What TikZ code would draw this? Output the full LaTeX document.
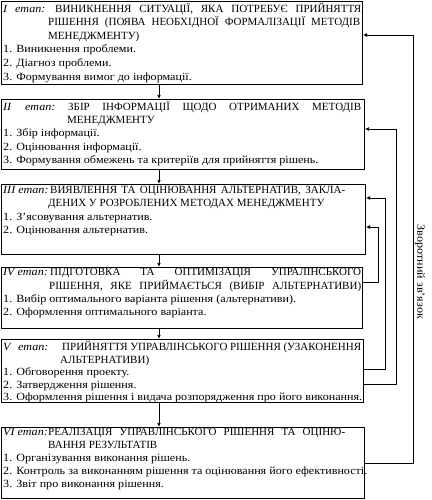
\documentclass[tikz,border=0pt]{standalone}
\usepackage{fontspec}
\setmainfont{Liberation Serif}[FakeStretch=1.1]
\newfontfamily\hfont{Liberation Serif}
\usetikzlibrary{arrows.meta}
\begin{document}
\begin{tikzpicture}[x=1pt,y=-1pt,
  box/.style={draw, line width=1pt, anchor=north west, inner sep=0pt},
  txt/.style={anchor=north west, inner sep=0pt, align=left},
  darr/.style={line width=0.9pt, -{Latex[length=4pt,width=3.5pt]}},
  fb/.style={line width=0.9pt, -{Latex[length=4pt,width=4pt]}}]
\useasboundingbox (0,0) rectangle (431,500);
% boxes
\node[box, minimum width=361pt, minimum height=83pt] (b1) at (1,1) {};
\node[box, minimum width=363pt, minimum height=70pt] (b2) at (1,99) {};
\node[box, minimum width=364pt, minimum height=70pt] (b3) at (1,184) {};
\node[box, minimum width=361pt, minimum height=61pt] (b4) at (1,267) {};
\node[box, minimum width=362pt, minimum height=63pt] (b5) at (1,339) {};
\node[box, minimum width=363pt, minimum height=71pt] (b6) at (1,427) {};
% texts
\node[txt, font=\fontsize{11}{13.6}\selectfont] (t1) at (3,2.5) {%
\makebox[12pt][l]{\textit{I}}\makebox[40pt][l]{\textit{етап:}}{\hfont\makebox[306pt][s]{ВИНИКНЕННЯ СИТУАЦІЇ, ЯКА ПОТРЕБУЄ ПРИЙНЯТТЯ}}\\
\hspace*{45pt}{\hfont\makebox[312pt][s]{РІШЕННЯ (ПОЯВА НЕОБХІДНОЇ ФОРМАЛІЗАЦІЇ МЕТОДІВ}}\\
\hspace*{45pt}{\hfont МЕНЕДЖМЕНТУ)}\\
1. Виникнення проблеми.\\
2. Діагноз проблеми.\\
3. Формування вимог до інформації.};
\node[txt, font=\fontsize{11}{13.3}\selectfont] (t2) at (3,101) {%
\makebox[22pt][l]{\textit{II}}\makebox[43pt][l]{\textit{етап:}}{\hfont\makebox[293pt][s]{ЗБІР ІНФОРМАЦІЇ ЩОДО ОТРИМАНИХ МЕТОДІВ}}\\
\hspace*{64pt}{\hfont МЕНЕДЖМЕНТУ}\\
1. Збір інформації.\\
2. Оцінювання інформації.\\
3. Формування обмежень та критеріїв для прийняття рішень.};
\node[txt, font=\fontsize{11}{13.3}\selectfont] (t3) at (3,186) {%
\makebox[47pt][l]{\textit{III етап:}}{\hfont\makebox[295pt][s]{ВИЯВЛЕННЯ ТА ОЦІНЮВАННЯ АЛЬТЕРНАТИВ, ЗАКЛА-}}\\
\hspace*{45pt}{\hfont ДЕНИХ У РОЗРОБЛЕНИХ МЕТОДАХ МЕНЕДЖМЕНТУ}\\
1. З’ясовування альтернатив.\\
2. Оцінювання альтернатив.};
\node[txt, font=\fontsize{11}{13.3}\selectfont] (t4) at (3,268.5) {%
\makebox[47pt][l]{\textit{IV етап:}}{\hfont\makebox[311pt][s]{ПІДГОТОВКА ТА ОПТИМІЗАЦІЯ УПРАЛІНСЬКОГО}}\\
\hspace*{46pt}{\hfont\makebox[312pt][s]{РІШЕННЯ, ЯКЕ ПРИЙМАЄТЬСЯ (ВИБІР АЛЬТЕРНАТИВИ)}}\\
1. Вибір оптимального варіанта рішення (альтернативи).\\
2. Оформлення оптимального варіанта.};
\node[txt, font=\fontsize{11}{12.6}\selectfont] (t5) at (3,341) {%
\makebox[15pt][l]{\textit{V}}\makebox[44pt][l]{\textit{етап:}}{\hfont\makebox[299pt][s]{ПРИЙНЯТТЯ УПРАВЛІНСЬКОГО РІШЕННЯ (УЗАКОНЕННЯ}}\\
\hspace*{57pt}{\hfont АЛЬТЕРНАТИВИ)}\\
1. Обговорення проекту.\\
2. Затвердження рішення.\\
3. Оформлення рішення і видача розпорядження про його виконання.};
\node[txt, font=\fontsize{11}{12.8}\selectfont] (t6) at (3,428.5) {%
\makebox[45pt][l]{\textit{VI етап:}}{\hfont\makebox[297pt][s]{РЕАЛІЗАЦІЯ УПРАВЛІНСЬКОГО РІШЕННЯ ТА ОЦІНЮ-}}\\
\hspace*{45pt}{\hfont ВАННЯ РЕЗУЛЬТАТІВ}\\
1. Організування виконання рішень.\\
2. Контроль за виконанням рішення та оцінювання його ефективності.\\
3. Звіт про виконання рішення.};
% down arrows
\coordinate (ax) at (159,0);
\draw[darr] (b1.south -| ax) -- (b2.north -| ax);
\draw[darr] (b2.south -| ax) -- (b3.north -| ax);
\draw[darr] (b3.south -| ax) -- (b4.north -| ax);
\draw[darr] (b4.south -| ax) -- (b5.north -| ax);
\draw[darr] (b5.south -| ax) -- (b6.north -| ax);
% feedback
\coordinate (f1) at (413,0);
\coordinate (f2) at (396,0);
\coordinate (f3) at (385,0);
\coordinate (f4) at (378,0);
\coordinate (y1) at (0,35);
\coordinate (y2) at (0,129);
\coordinate (y3a) at (0,198);
\coordinate (y3b) at (0,227);
\coordinate (y4) at (0,282);
\coordinate (y5a) at (0,369);
\coordinate (y5b) at (0,384);
\coordinate (y6) at (0,463);
\draw[fb] (b6.east |- y6) -| (f1 |- y1) -- (b1.east |- y1);
\draw[fb] (b5.east |- y5b) -| (f2 |- y2) -- (b2.east |- y2);
\draw[fb] (b5.east |- y5a) -| (f3 |- y3a) -- (b3.east |- y3a);
\draw[fb] (b4.east |- y4) -| (f4 |- y3b) -- (b3.east |- y3b);
\node[rotate=-90, font=\fontsize{11}{13}\selectfont, inner sep=0pt] (lbl) at (420,272) {Зворотний зв’язок};
\end{tikzpicture}
\end{document}
